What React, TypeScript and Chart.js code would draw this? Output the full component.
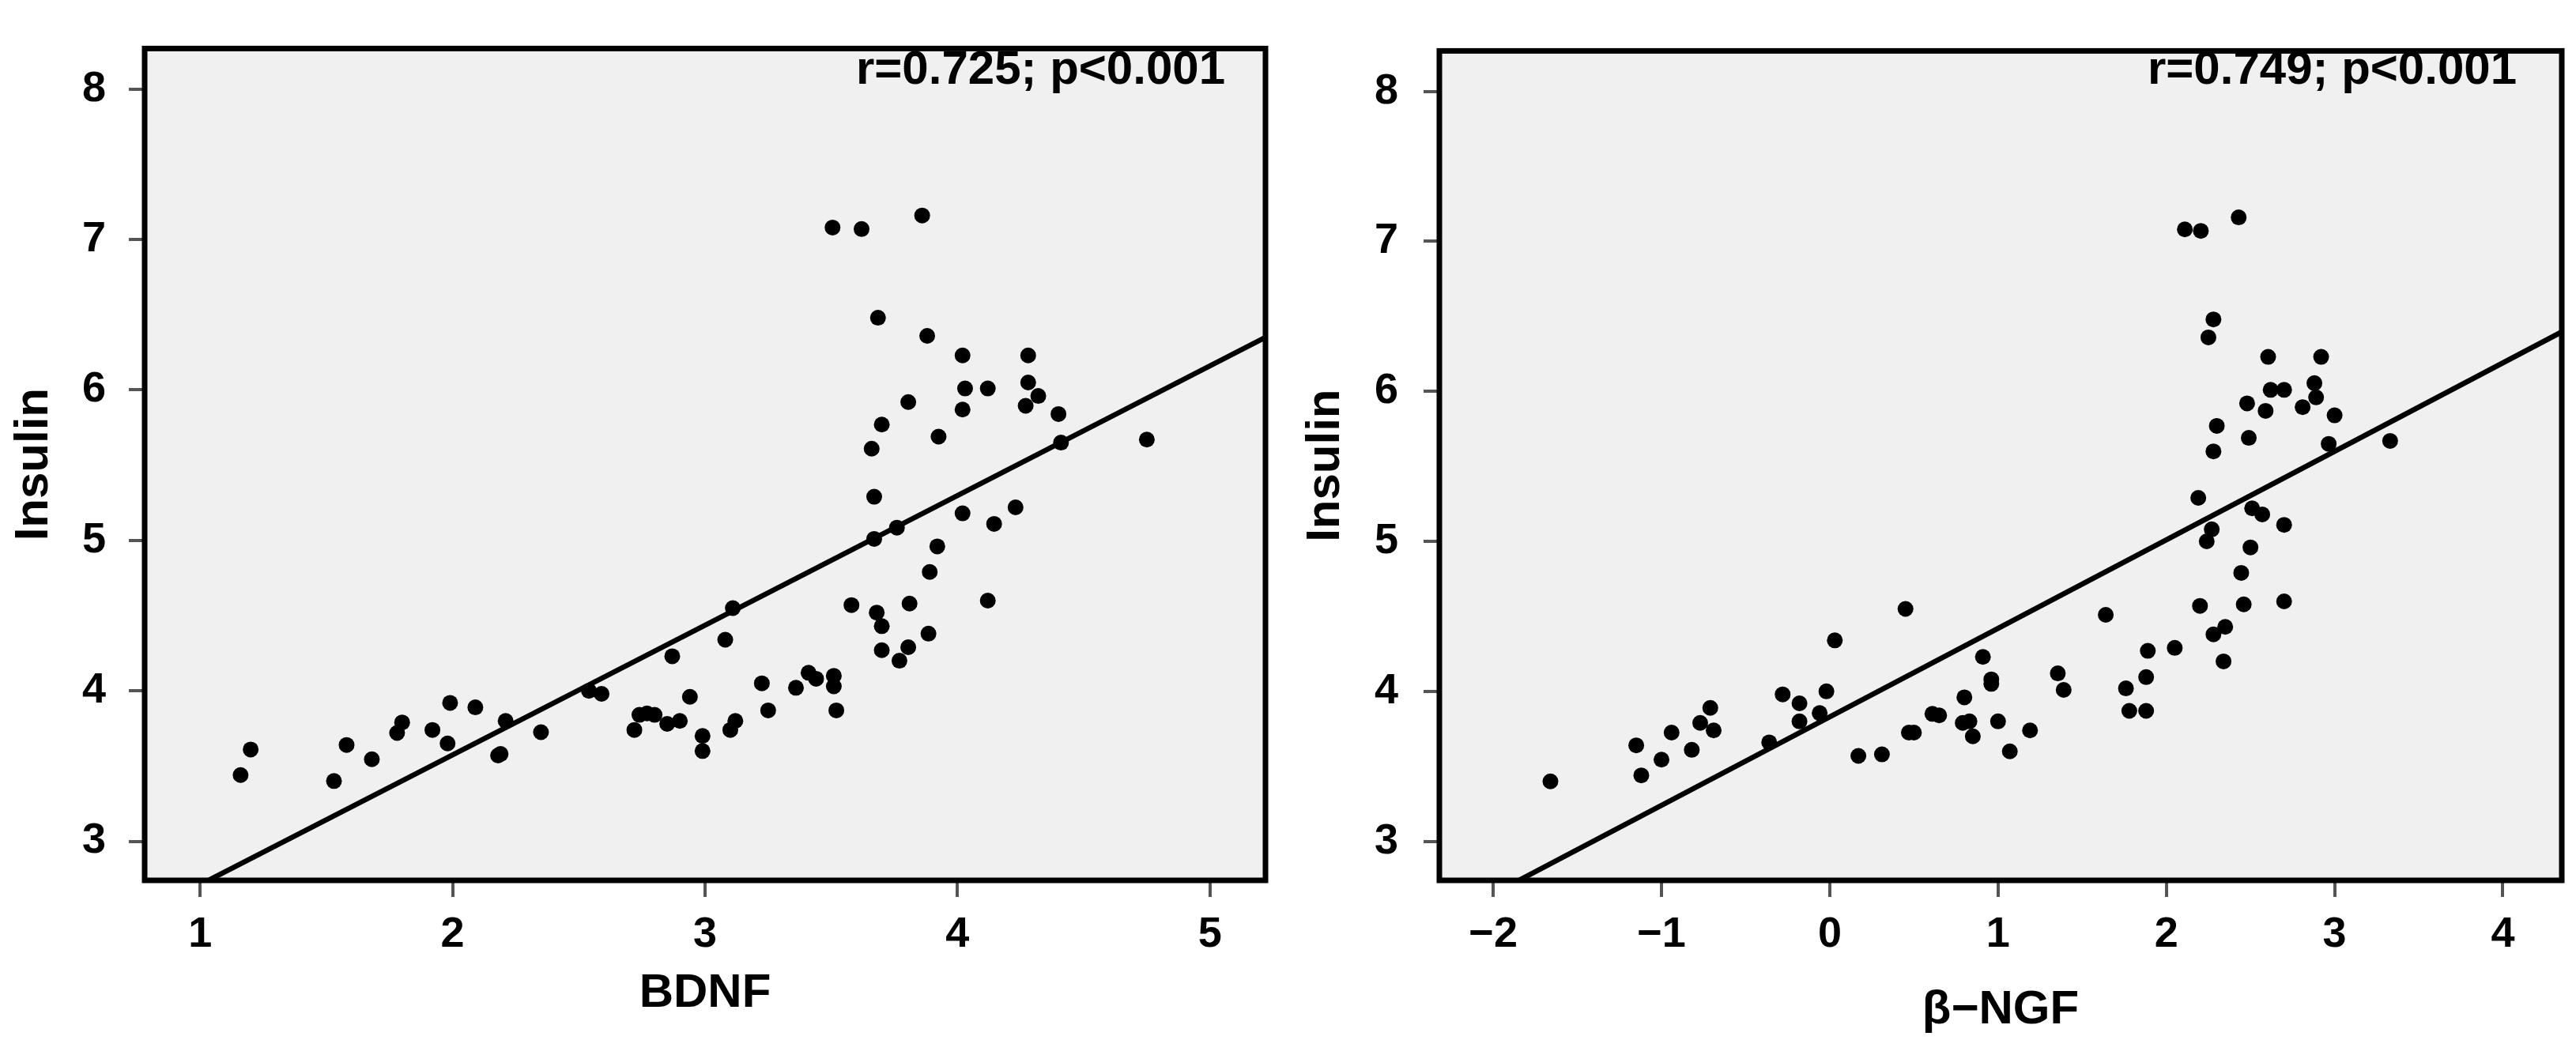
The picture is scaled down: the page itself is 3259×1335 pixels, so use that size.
import React, { useEffect, useRef } from 'react';
import { Chart, registerables } from 'chart.js';

Chart.register(...registerables);

// ---- Data ----
const bdnf = [
  1.16, 1.20, 1.53, 1.58, 1.68, 1.78, 1.80, 1.92, 1.98, 1.99,
  2.09, 2.18, 2.19, 2.21, 2.35, 2.54, 2.59, 2.72, 2.74, 2.77,
  2.80, 2.85, 2.90, 2.87, 2.94, 2.99, 2.99, 3.08, 3.11, 3.10,
  3.12, 3.225, 3.25, 3.36, 3.41, 3.44, 3.51, 3.51, 3.52, 3.58,
  3.68, 3.70, 3.70, 3.77, 3.805, 3.81, 3.885, 3.89, 3.92, 4.12,
  4.145, 3.67, 3.76, 3.505, 3.62, 3.86, 3.685, 3.88, 4.02, 4.28,
  4.03, 4.12, 4.28, 4.32, 3.805, 4.02, 4.27, 4.40, 3.70, 3.925,
  3.66, 4.41, 4.75, 3.67, 4.02, 4.23,
];
const insulinA = [
  3.44, 3.61, 3.40, 3.64, 3.545, 3.72, 3.79, 3.74, 3.65, 3.92,
  3.89, 3.57, 3.58, 3.80, 3.725, 4.00, 3.98, 3.74, 3.84, 3.85,
  3.84, 3.78, 3.80, 4.23, 3.96, 3.70, 3.60, 4.34, 4.55, 3.74,
  3.80, 4.05, 3.87, 4.02, 4.12, 4.08, 4.10, 4.03, 3.87, 4.57,
  4.52, 4.43, 4.27, 4.20, 4.29, 4.58, 4.38, 4.79, 4.96, 4.60,
  5.11, 5.01, 5.085, 7.08, 7.07, 7.16, 6.48, 6.36, 6.23, 6.23,
  6.01, 6.01, 6.05, 5.96, 5.92, 5.87, 5.895, 5.84, 5.77, 5.69,
  5.61, 5.65, 5.67, 5.29, 5.18, 5.22,
];
const ngf = [
  -1.66, -1.15, -1.12, -1.00, -0.94, -0.82, -0.77, -0.71, -0.69, -0.36,
  -0.28, -0.18, -0.18, -0.06, -0.02, 0.03, 0.45, 0.17, 0.31, 0.47,
  0.50, 0.61, 0.65, 0.80, 0.79, 0.83, 0.85, 0.91, 0.96, 0.96,
  1.00, 1.07, 1.19, 1.355, 1.39, 1.64, 1.76, 1.78, 1.88, 1.88,
  1.89, 2.05, 2.20, 2.28, 2.35, 2.34, 2.445, 2.46, 2.50, 2.70,
  2.70, 2.24, 2.27, 2.11, 2.205, 2.43, 2.28, 2.25, 2.605, 2.92,
  2.62, 2.70, 2.88, 2.89, 2.48, 2.59, 2.81, 3.00, 2.30, 2.49,
  2.28, 2.965, 3.33, 2.19, 2.51, 2.57,
];
const insulinB = [
  3.40, 3.64, 3.44, 3.545, 3.725, 3.61, 3.79, 3.89, 3.74, 3.66,
  3.98, 3.92, 3.80, 3.855, 4.00, 4.34, 4.55, 3.57, 3.58, 3.725,
  3.725, 3.85, 3.84, 3.96, 3.79, 3.80, 3.70, 4.23, 4.08, 4.05,
  3.80, 3.60, 3.74, 4.12, 4.01, 4.51, 4.02, 3.87, 3.87, 4.095,
  4.27, 4.29, 4.57, 4.38, 4.43, 4.20, 4.79, 4.58, 4.96, 4.60,
  5.11, 5.00, 5.08, 7.08, 7.07, 7.16, 6.48, 6.36, 6.23, 6.23,
  6.01, 6.01, 6.055, 5.96, 5.92, 5.87, 5.895, 5.84, 5.77, 5.69,
  5.60, 5.65, 5.67, 5.29, 5.22, 5.18,
];

const yTicks = [3, 4, 5, 6, 7, 8];
const xTicksA = [1, 2, 3, 4, 5];
const xTicksB = [-2, -1, 0, 1, 2, 3, 4];

const yRange = [2.74, 8.27];
const xRangeA = [0.78, 5.22];
const xRangeB = [-2.32, 4.35];

const fitA = { slope: 0.862, intercept: 1.85 };
const fitB = { slope: 0.59, intercept: 3.83 };

const statA = 'r=0.725; p<0.001';
const statB = 'r=0.749; p<0.001';
const xLabelA = 'BDNF';
const xLabelB = 'β−NGF';
const yLabel = 'Insulin';

const FONT = '"Liberation Sans", Arial, Helvetica, sans-serif';

type PanelCfg = {
  xs: number[];
  ys: number[];
  xTicks: number[];
  xRange: number[];
  fit: { slope: number; intercept: number };
  stat: string;
  xLabel: string;
  width: number;
  plotLeft: number;
  padRight: number;
  yTickPad: number;
  yTitlePad: number;
  xTitlePad: number;
  statInset: number;
};

function makeChart(canvas: HTMLCanvasElement, c: PanelCfg) {
  const pts = c.xs.map((x, i) => ({ x, y: c.ys[i] }));
  const lineData = [c.xRange[0], c.xRange[1]].map((x) => ({ x, y: c.fit.slope * x + c.fit.intercept }));

  const framePlugin = {
    id: 'frame',
    beforeDraw(chart: any) {
      const { ctx, chartArea: a } = chart;
      ctx.save();
      ctx.fillStyle = '#f0f0f0';
      ctx.fillRect(a.left, a.top, a.right - a.left, a.bottom - a.top);
      ctx.restore();
    },
    afterDraw(chart: any) {
      const { ctx, chartArea: a } = chart;
      ctx.save();
      ctx.strokeStyle = '#000';
      ctx.lineWidth = 7;
      ctx.strokeRect(a.left, a.top, a.right - a.left, a.bottom - a.top);
      ctx.fillStyle = '#000';
      ctx.font = `bold 60px ${FONT}`;
      ctx.textAlign = 'right';
      ctx.textBaseline = 'alphabetic';
      ctx.fillText(c.stat, a.right - c.statInset, 106);
      ctx.restore();
    },
  };

  const fmt = (v: any) => String(v).replace('-', '\u2212');

  return new Chart(canvas, {
    type: 'scatter',
    data: {
      datasets: [
        {
          data: pts,
          backgroundColor: '#000',
          borderColor: '#000',
          borderWidth: 0,
          pointRadius: 10,
          pointHoverRadius: 10,
        },
        {
          data: lineData,
          showLine: true,
          borderColor: '#000',
          borderWidth: 6.5,
          pointRadius: 0,
          pointHoverRadius: 0,
          clip: 0,
        } as any,
      ],
    },
    options: {
      animation: false,
      responsive: false,
      devicePixelRatio: 1,
      events: [],
      layout: { padding: { top: 35, right: c.padRight, left: 0, bottom: 0 } },
      plugins: { legend: { display: false }, tooltip: { enabled: false } },
      scales: {
        x: {
          type: 'linear',
          min: c.xRange[0],
          max: c.xRange[1],
          afterBuildTicks: (axis: any) => {
            axis.ticks = c.xTicks.map((v) => ({ value: v }));
          },
          afterFit: (s: any) => {
            s.height = 1335 - 1114;
          },
          grid: { display: true, drawOnChartArea: false, drawTicks: true, tickLength: 21, color: '#555', lineWidth: 4 },
          border: { display: false },
          ticks: {
            color: '#000',
            padding: 16,
            font: { family: FONT, size: 54, weight: 'bold' },
            callback: fmt,
            maxRotation: 0,
          },
          title: {
            display: true,
            text: c.xLabel,
            color: '#000',
            font: { family: FONT, size: 60, weight: 'bold' },
            padding: { top: 0, bottom: c.xTitlePad },
          },
        },
        y: {
          type: 'linear',
          min: yRange[0],
          max: yRange[1],
          afterBuildTicks: (axis: any) => {
            axis.ticks = yTicks.map((v) => ({ value: v }));
          },
          afterFit: (s: any) => {
            s.width = c.plotLeft;
          },
          grid: { display: true, drawOnChartArea: false, drawTicks: true, tickLength: 20, color: '#555', lineWidth: 4 },
          border: { display: false },
          ticks: {
            color: '#000',
            padding: c.yTickPad,
            font: { family: FONT, size: 54, weight: 'bold' },
            callback: fmt,
          },
          title: {
            display: true,
            text: yLabel,
            color: '#000',
            font: { family: FONT, size: 60, weight: 'bold' },
            padding: { top: c.yTitlePad, bottom: 0 },
          },
        },
      },
    } as any,
    plugins: [framePlugin],
  });
}

function Panel({ cfg, left }: { cfg: PanelCfg; left: number }) {
  const ref = useRef<HTMLCanvasElement | null>(null);
  useEffect(() => {
    if (!ref.current) return;
    const chart = makeChart(ref.current, cfg);
    return () => chart.destroy();
  }, []);
  return (
    <canvas
      ref={ref}
      width={cfg.width}
      height={1335}
      style={{ position: 'absolute', left, top: 0, width: cfg.width, height: 1335 }}
    />
  );
}

const panelA: PanelCfg = {
  xs: bdnf,
  ys: insulinA,
  xTicks: xTicksA,
  xRange: xRangeA,
  fit: fitA,
  stat: statA,
  xLabel: xLabelA,
  width: 1620,
  plotLeft: 183,
  padRight: 19,
  yTickPad: 29,
  yTitlePad: 7,
  xTitlePad: 42,
  statInset: 51,
};

const panelB: PanelCfg = {
  xs: ngf,
  ys: insulinB,
  xTicks: xTicksB,
  xRange: xRangeB,
  fit: fitB,
  stat: statB,
  xLabel: xLabelB,
  width: 1639,
  plotLeft: 201,
  padRight: 18,
  yTickPad: 32,
  yTitlePad: 21,
  xTitlePad: 21,
  statInset: 57,
};

export default function App() {
  return (
    <div style={{ position: 'fixed', left: 0, top: 0, width: 3259, height: 1335, background: '#fff', overflow: 'hidden' }}>
      <Panel cfg={panelA} left={0} />
      <Panel cfg={panelB} left={1620} />
    </div>
  );
}
